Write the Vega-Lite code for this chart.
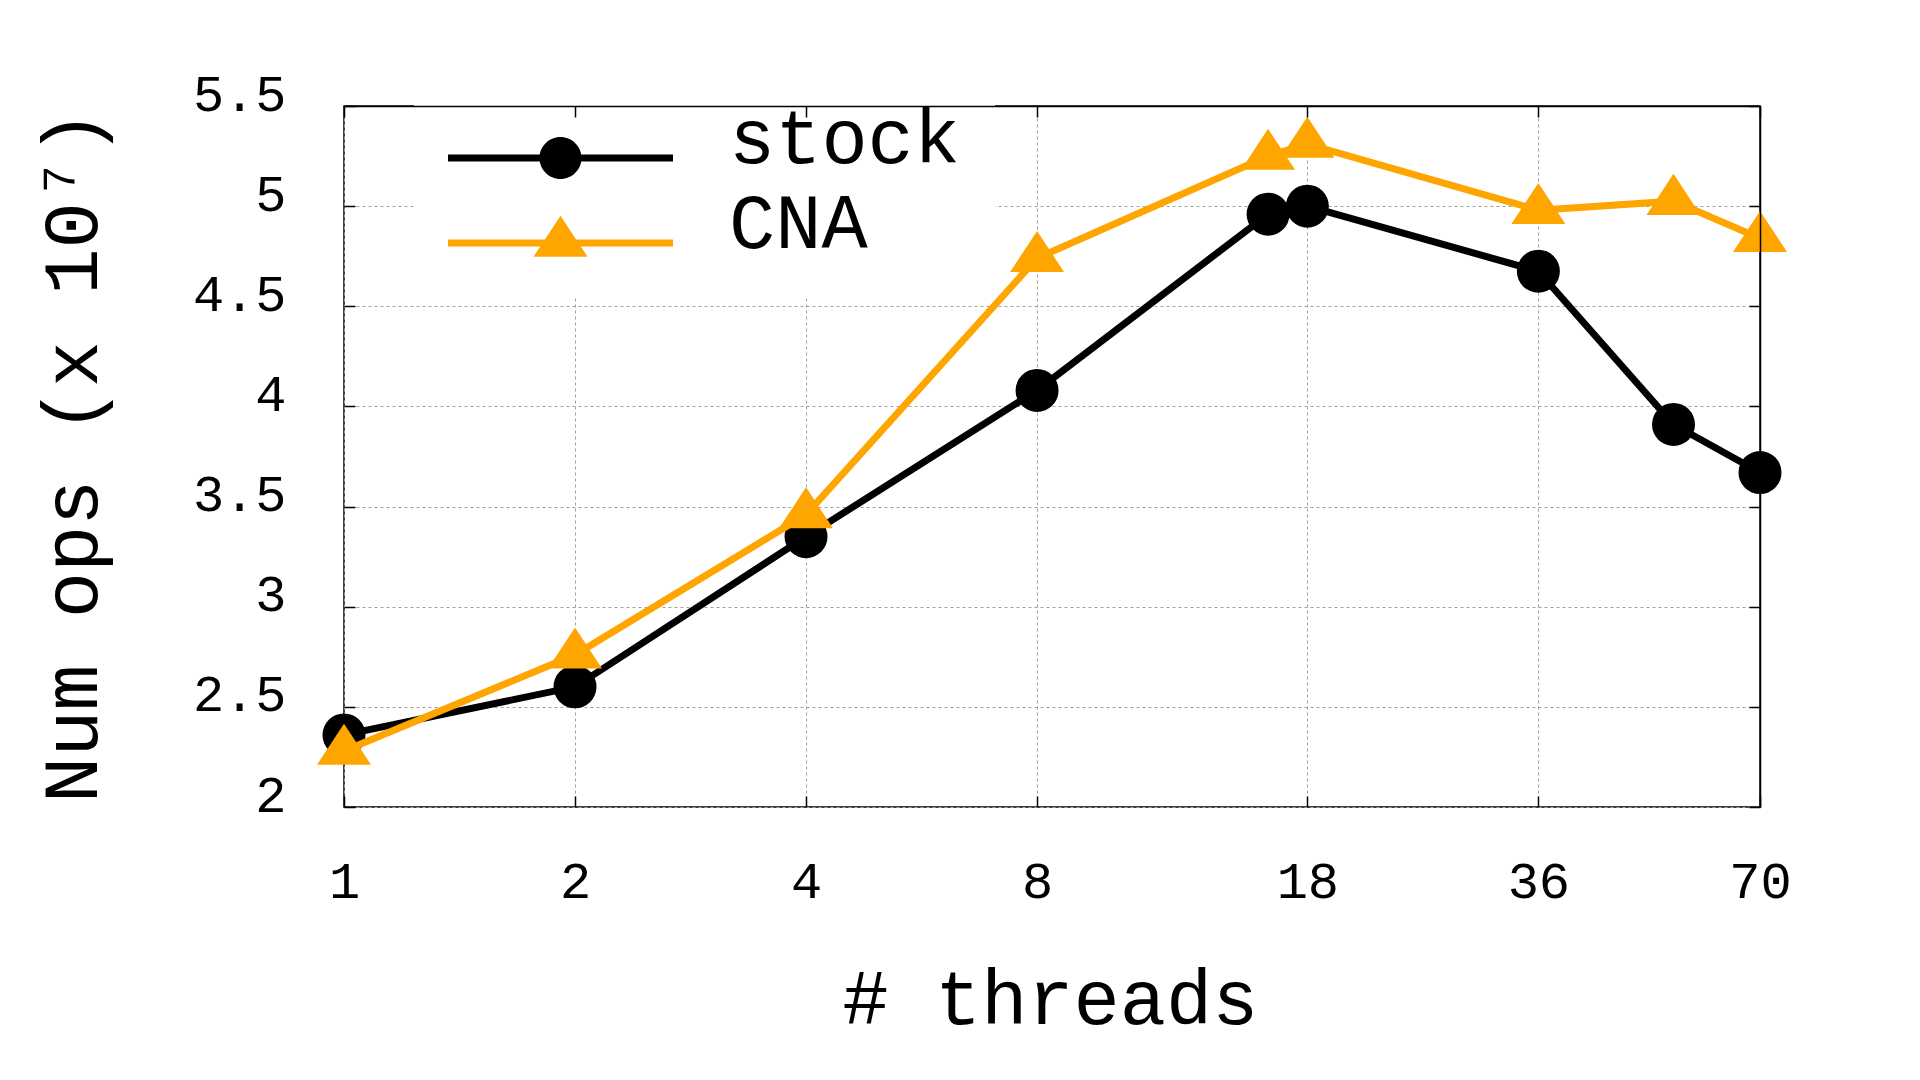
{
  "$schema": "https://vega.github.io/schema/vega-lite/v6.json",
  "width": 1416,
  "height": 701,
  "autosize": {"type": "none"},
  "padding": {"left": 344, "top": 106, "right": 160, "bottom": 273},
  "background": "white",
  "config": {
    "font": "Liberation Mono",
    "view": {"stroke": "black", "strokeWidth": 1.5},
    "axis": {
      "labelFont": "Liberation Mono",
      "titleFont": "Liberation Mono",
      "labelColor": "black",
      "titleColor": "black",
      "tickColor": "black",
      "tickWidth": 1.5,
      "gridColor": "#a0a0a0",
      "gridDash": [3, 3],
      "gridWidth": 1,
      "domain": false,
      "labelFlush": false,
      "labelOverlap": false
    },
    "legend": {
      "orient": "none",
      "legendX": 70,
      "legendY": -44,
      "title": null,
      "padding": 34,
      "fillColor": "white",
      "zindex": 1,
      "symbolSize": 50625,
      "symbolStrokeWidth": 0,
      "labelFont": "Liberation Mono",
      "labelFontSize": 77,
      "labelColor": "black",
      "labelBaseline": "alphabetic",
      "labelOffset": 56,
      "rowPadding": 1,
      "labelLimit": 0
    }
  },
  "data": {
    "values": [
      {"threads": 1, "series": "stock", "ops": 2.36},
      {"threads": 2, "series": "stock", "ops": 2.60},
      {"threads": 4, "series": "stock", "ops": 3.35},
      {"threads": 8, "series": "stock", "ops": 4.08},
      {"threads": 16, "series": "stock", "ops": 4.96},
      {"threads": 18, "series": "stock", "ops": 5.00},
      {"threads": 36, "series": "stock", "ops": 4.675},
      {"threads": 54, "series": "stock", "ops": 3.91},
      {"threads": 70, "series": "stock", "ops": 3.67},
      {"threads": 1, "series": "CNA", "ops": 2.28},
      {"threads": 2, "series": "CNA", "ops": 2.76},
      {"threads": 4, "series": "CNA", "ops": 3.46},
      {"threads": 8, "series": "CNA", "ops": 4.74},
      {"threads": 16, "series": "CNA", "ops": 5.25},
      {"threads": 18, "series": "CNA", "ops": 5.31},
      {"threads": 36, "series": "CNA", "ops": 4.98},
      {"threads": 54, "series": "CNA", "ops": 5.025},
      {"threads": 70, "series": "CNA", "ops": 4.84}
    ]
  },
  "resolve": {"axis": {"x": "independent", "y": "independent"}},
  "layer": [
    {
      "transform": [{"filter": "datum.series === 'stock'"}],
      "mark": {"type": "line", "strokeWidth": 7, "clip": false},
      "encoding": {
        "x": {
          "field": "threads", "type": "quantitative",
          "scale": {"type": "log", "base": 2, "domain": [1, 70], "nice": false},
          "axis": {
            "orient": "bottom",
            "values": [1, 2, 4, 8, 18, 36, 70],
            "format": "d",
            "grid": true,
            "tickSize": -11,
            "labelFontSize": 52,
            "labelBaseline": "alphabetic",
            "labelPadding": 101,
            "title": "# threads",
            "titleFontSize": 77,
            "titleFontWeight": "normal",
            "titleX": 706,
            "titleY": 216,
            "titleAlign": "center",
            "titleBaseline": "alphabetic"
          }
        },
        "y": {
          "field": "ops", "type": "quantitative",
          "scale": {"domain": [2, 5.5], "nice": false, "zero": false},
          "axis": {
            "orient": "left",
            "values": [2, 2.5, 3, 3.5, 4, 4.5, 5, 5.5],
            "format": "~g",
            "grid": true,
            "tickSize": -11,
            "labelFontSize": 52,
            "labelBaseline": "alphabetic",
            "labelOffset": 4,
            "labelPadding": 69,
            "title": "Num ops (x 10⁷)",
            "titleFontSize": 77,
            "titleFontWeight": "normal",
            "titleAngle": -90,
            "titleX": -248,
            "titleY": 350,
            "titleAlign": "center",
            "titleBaseline": "alphabetic"
          }
        },
        "color": {
          "field": "series", "type": "nominal",
          "scale": {"domain": ["stock", "CNA"], "range": ["#000000", "#FFA500"]},
          "legend": {
            "encode": {
              "symbols": {
                "update": {
                  "y": {"value": 62},
                  "shape": {"signal": "datum.value === 'stock' ? 'M-1,-0.031H1V0.031H-1ZM-0.1867,0A0.1867,0.1867,0,1,1,0.1867,0A0.1867,0.1867,0,1,1,-0.1867,0Z' : 'M-1,-0.031H1V0.031H-1ZM0,-0.2424L0.24,0.1224L-0.24,0.1224Z'"},
                  "fill": {"signal": "datum.value === 'stock' ? '#000000' : '#FFA500'"},
                  "fillOpacity": {"value": 1},
                  "stroke": {"value": "transparent"},
                  "strokeWidth": {"value": 0},
                  "opacity": {"value": 1}
                }
              },
              "labels": {
                "update": {"y": {"value": 62}, "dy": {"value": 5}}
              }
            }
          }
        }
      }
    },
    {
      "transform": [{"filter": "datum.series === 'stock'"}],
      "mark": {"type": "point", "shape": "circle", "filled": true, "opacity": 1, "size": 1850, "strokeWidth": 0, "clip": false},
      "encoding": {
        "x": {
          "field": "threads", "type": "quantitative",
          "scale": {"type": "log", "base": 2, "domain": [1, 70], "nice": false},
          "axis": {
            "orient": "top", "values": [1, 2, 4, 8, 18, 36, 70],
            "labels": false, "grid": false, "tickSize": -11, "title": null,
            "domain": true, "domainColor": "black", "domainWidth": 1.5, "zindex": 2
          }
        },
        "y": {
          "field": "ops", "type": "quantitative",
          "scale": {"domain": [2, 5.5], "nice": false, "zero": false},
          "axis": {
            "orient": "right", "values": [2, 2.5, 3, 3.5, 4, 4.5, 5, 5.5],
            "labels": false, "grid": false, "tickSize": -11, "title": null,
            "domain": true, "domainColor": "black", "domainWidth": 1.5, "zindex": 2
          }
        },
        "color": {
          "field": "series", "type": "nominal",
          "scale": {"domain": ["stock", "CNA"], "range": ["#000000", "#FFA500"]}
        }
      }
    },
    {
      "transform": [{"filter": "datum.series === 'CNA'"}],
      "mark": {"type": "line", "strokeWidth": 7, "clip": false},
      "encoding": {
        "x": {"field": "threads", "type": "quantitative", "scale": {"type": "log", "base": 2, "domain": [1, 70], "nice": false}, "axis": null},
        "y": {"field": "ops", "type": "quantitative", "scale": {"domain": [2, 5.5], "nice": false, "zero": false}, "axis": null},
        "color": {"field": "series", "type": "nominal", "scale": {"domain": ["stock", "CNA"], "range": ["#000000", "#FFA500"]}}
      }
    },
    {
      "transform": [{"filter": "datum.series === 'CNA'"}],
      "mark": {"type": "point", "shape": "M0,-1.01L1,0.51L-1,0.51Z", "filled": true, "opacity": 1, "size": 2916, "strokeWidth": 0, "clip": false},
      "encoding": {
        "x": {"field": "threads", "type": "quantitative", "scale": {"type": "log", "base": 2, "domain": [1, 70], "nice": false}, "axis": null},
        "y": {"field": "ops", "type": "quantitative", "scale": {"domain": [2, 5.5], "nice": false, "zero": false}, "axis": null},
        "color": {"field": "series", "type": "nominal", "scale": {"domain": ["stock", "CNA"], "range": ["#000000", "#FFA500"]}}
      }
    }
  ]
}
